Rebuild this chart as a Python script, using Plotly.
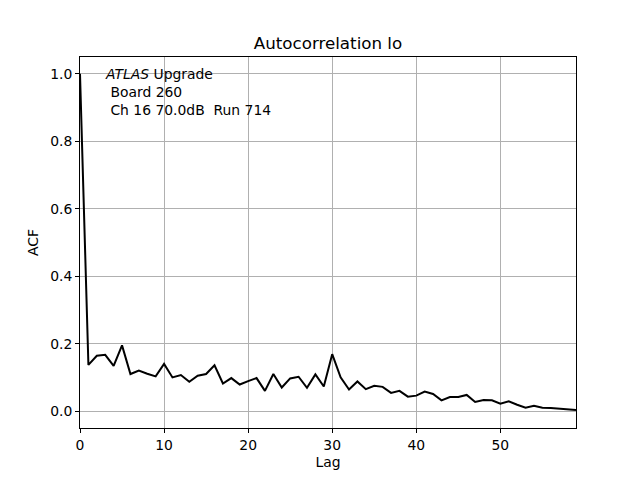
import plotly.graph_objects as go

lags = list(range(60))
acf = [1.0, 0.137, 0.164, 0.167, 0.134, 0.195, 0.110, 0.120, 0.111, 0.103,
       0.140, 0.100, 0.107, 0.087, 0.105, 0.110, 0.136, 0.082, 0.098, 0.079,
       0.089, 0.098, 0.060, 0.110, 0.070, 0.097, 0.102, 0.069, 0.109, 0.073,
       0.169, 0.100, 0.064, 0.088, 0.065, 0.075, 0.072, 0.054, 0.060, 0.043,
       0.046, 0.058, 0.051, 0.032, 0.042, 0.042, 0.048, 0.027, 0.033, 0.032,
       0.022, 0.029, 0.019, 0.010, 0.016, 0.010, 0.009, 0.007, 0.006, 0.003]
x_ticks = [0, 10, 20, 30, 40, 50]
y_ticks = [0.0, 0.2, 0.4, 0.6, 0.8, 1.0]

FONT = "DejaVu Sans"

fig = go.Figure()
fig.add_trace(go.Scatter(x=lags, y=acf, mode="lines",
                         line=dict(color="black", width=2), showlegend=False))

axis_common = dict(showline=True, linecolor="black", linewidth=1, mirror=True,
                   ticks="outside", ticklen=4, tickcolor="black", tickwidth=1,
                   showgrid=True, gridcolor="#b0b0b0", gridwidth=1, zeroline=False,
                   tickfont=dict(family=FONT, size=13.9, color="black"))

# page body has an 8px offset; margins compensate so the plot area lands at x 80..576, y 57..428
fig.update_layout(
    width=640, height=480,
    margin=dict(l=72, r=72, t=49, b=60),
    paper_bgcolor="white", plot_bgcolor="white",
    title=dict(text="Autocorrelation lo", x=(72 + 568) / 2 / 640, xanchor="center",
               y=1 - 35 / 480, yanchor="middle",
               font=dict(family=FONT, size=16.7, color="black")),
    xaxis=dict(range=[0, 59], tickvals=x_ticks,
               title=dict(text="Lag", font=dict(family=FONT, size=13.9, color="black"), standoff=5),
               **axis_common),
    yaxis=dict(range=[-0.05, 1.05], tickvals=y_ticks, tickformat=".1f",
               title=dict(text="ACF", font=dict(family=FONT, size=13.9, color="black"), standoff=8),
               **axis_common),
    annotations=[dict(
        xref="paper", yref="paper", x=0.046, y=0.98, xanchor="left", yanchor="top",
        align="left", showarrow=False,
        text="<i>ATLAS</i> Upgrade<br>\u00a0Board 260<br>\u00a0Ch 16 70.0dB\u00a0\u00a0Run 714",
        font=dict(family=FONT, size=13.9, color="black"),
    )],
)

fig.write_html("out.html")
